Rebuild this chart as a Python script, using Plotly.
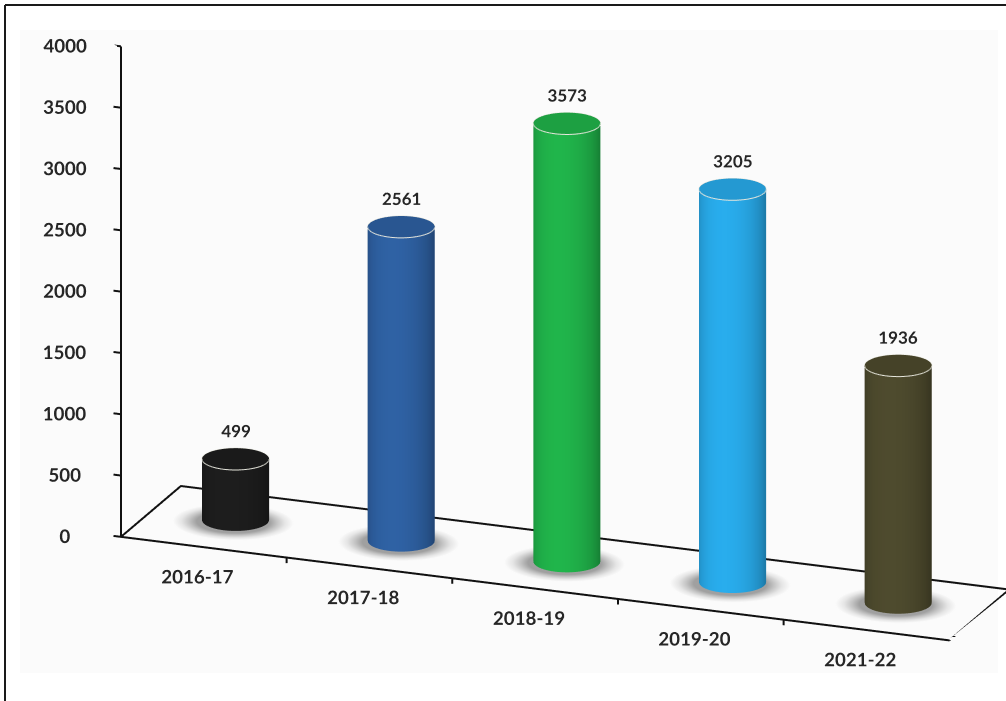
import math
import numpy as np
import plotly.graph_objects as go

# ---- data -------------------------------------------------------------
categories = ["2016-17", "2017-18", "2018-19", "2019-20", "2021-22"]
values = [499, 2561, 3573, 3205, 1936]
bar_colors = ["#1c1c1c", "#2d5e9e", "#1fae48", "#27a6e4", "#4b482c"]
z_ticks = [0, 500, 1000, 1500, 2000, 2500, 3000, 3500, 4000]

# ---- scene geometry ---------------------------------------------------
K_PX = 350.0                  # pixels per scene unit (orthographic view)
PX_X = 886 / 5                # pixels per category step
PX_Y = 167                    # pixels for the full floor depth
PX_Z = 518 / 4000             # pixels per value unit
FLOOR_X = [-0.5, len(categories) - 0.5]
X_RANGE = [-0.8, FLOOR_X[1]]          # room on the left for the value ticks
Y_RANGE = [0.0, 1.0]
Z_RANGE = [-195, 4000]                # room below the floor for category labels
AX = (X_RANGE[1] - X_RANGE[0]) * PX_X / K_PX
AY = (Y_RANGE[1] - Y_RANGE[0]) * PX_Y / K_PX
AZ = (Z_RANGE[1] - Z_RANGE[0]) * PX_Z / K_PX
R_PX = 33.5                           # cylinder radius in pixels
RX = R_PX / PX_X
RY = R_PX / PX_Y
Y_MID = 0.53
N_SEG = 72

FONT = "Lato, 'Open Sans', Arial, sans-serif"
TXT = "#262626"
LINE = "#111111"

# ---- camera angles --------------------------------------------------------
phi, theta = math.radians(21), math.radians(19)
eye_dir = np.array([math.sin(phi) * math.cos(theta),
                    -math.cos(phi) * math.cos(theta), math.sin(theta)])
right = np.array([math.cos(phi), math.sin(phi), 0.0])
up = np.cross(right, -eye_dir)
t_light = (phi - math.pi / 2) - math.radians(15)


def rgb(hexcol):
    h = hexcol.lstrip("#")
    return np.array([int(h[i:i + 2], 16) for i in (0, 2, 4)], dtype=float)


def css(c):
    c = np.clip(c, 0, 255).round().astype(int)
    return f"rgb({c[0]},{c[1]},{c[2]})"


def cylinder(xc, height, color):
    base = rgb(color)
    t = np.linspace(0, 2 * np.pi, N_SEG, endpoint=False)
    cx = xc + RX * np.cos(t)
    cy = Y_MID + RY * np.sin(t)
    shade = 0.74 + 0.30 * np.clip(np.cos(t - t_light), 0, None)
    side_cols = [css(base * s) for s in shade]
    cap_col = css(base * 0.92)
    # side ring bottom, side ring top, cap ring, cap centre
    xs = np.concatenate([cx, cx, cx, [xc]])
    ys = np.concatenate([cy, cy, cy, [Y_MID]])
    zs = np.concatenate([np.zeros(N_SEG), np.full(N_SEG, height),
                         np.full(N_SEG, height), [height]])
    vc = side_cols + side_cols + [cap_col] * (N_SEG + 1)
    I, J, K = [], [], []
    for s in range(N_SEG):
        n = (s + 1) % N_SEG
        I += [s, n]
        J += [n, N_SEG + n]
        K += [N_SEG + s, N_SEG + s]
    c = 3 * N_SEG
    for s in range(N_SEG):
        n = (s + 1) % N_SEG
        I.append(2 * N_SEG + s)
        J.append(2 * N_SEG + n)
        K.append(c)
    return go.Mesh3d(
        x=xs, y=ys, z=zs, i=I, j=J, k=K, vertexcolor=vc,
        lighting=dict(ambient=1, diffuse=0, specular=0, fresnel=0),
        hoverinfo="skip", showscale=False)


def base_shadow(xc):
    t = np.linspace(0, 2 * np.pi, N_SEG, endpoint=False)
    rings = [(0.0, "#a0a0a0"), (1.0, "#a0a0a0"), (1.2, "#c4c4c4"),
             (1.42, "#e6e6e6"), (1.65, "#fbfbfb")]
    xs, ys, vc = [], [], []
    for f, col in rings:
        xs += list(xc + 1.1 * f * RX * np.cos(t))
        ys += list(Y_MID + f * RY * np.sin(t) - 0.04)
        vc += [col] * N_SEG
    I, J, K = [], [], []
    for r in range(len(rings) - 1):
        for s in range(N_SEG):
            n = (s + 1) % N_SEG
            a, b = r * N_SEG + s, r * N_SEG + n
            c, d = (r + 1) * N_SEG + s, (r + 1) * N_SEG + n
            I += [a, b]
            J += [b, d]
            K += [c, c]
    return go.Mesh3d(
        x=xs, y=ys, z=[2] * len(xs), i=I, j=J, k=K, vertexcolor=vc,
        lighting=dict(ambient=1, diffuse=0, specular=0, fresnel=0),
        hoverinfo="skip", showscale=False)


def segments(xs, ys, zs, width):
    return go.Scatter3d(x=xs, y=ys, z=zs, mode="lines",
                        line=dict(color=LINE, width=width),
                        hoverinfo="skip", showlegend=False)


fig = go.Figure()

# floor outline
fx = [FLOOR_X[0], FLOOR_X[1], FLOOR_X[1], FLOOR_X[0], FLOOR_X[0]]
fy = [Y_RANGE[0], Y_RANGE[0], Y_RANGE[1], Y_RANGE[1], Y_RANGE[0]]
fig.add_trace(segments(fx, fy, [0] * 5, 4))

# category separators on the front edge
sx, sy, sz = [], [], []
for b in range(len(categories) - 1):
    sx += [b + 0.5, b + 0.5, None]
    sy += [0, 0, None]
    sz += [0, -45, None]
fig.add_trace(segments(sx, sy, sz, 4))

# value axis with its tick marks
ax_x, ax_y, ax_z = [FLOOR_X[0], FLOOR_X[0]], [0, 0], [0, z_ticks[-1]]
for zt in z_ticks:
    ax_x += [None, FLOOR_X[0], FLOOR_X[0] - 0.045]
    ax_y += [None, 0, 0]
    ax_z += [None, zt, zt]
fig.add_trace(segments(ax_x, ax_y, ax_z, 4))

for i, (v, col) in enumerate(zip(values, bar_colors)):
    fig.add_trace(base_shadow(i))
    fig.add_trace(cylinder(i, v, col))
    # light rim around the top face
    t = np.linspace(0, 2 * np.pi, N_SEG + 1)
    fig.add_trace(go.Scatter3d(
        x=i + RX * np.cos(t), y=Y_MID + RY * np.sin(t), z=[v] * (N_SEG + 1),
        mode="lines", line=dict(color="#e6e6dc", width=2),
        hoverinfo="skip", showlegend=False))

# value labels above each cylinder
fig.add_trace(go.Scatter3d(
    x=list(range(len(values))), y=[Y_MID] * len(values),
    z=[v + 230 for v in values], mode="text", textposition="middle center",
    text=[str(v) for v in values],
    textfont=dict(family=FONT, size=17, color=TXT, weight="bold"),
    hoverinfo="skip", showlegend=False))

# ---- camera placement -------------------------------------------------------
box_mid = np.array([(X_RANGE[0] + X_RANGE[1]) / 2, 0.5,
                    (Z_RANGE[0] + Z_RANGE[1]) / 2])
target = np.array([(2.0 - box_mid[0]) * PX_X / K_PX,
                   0.0,
                   (2000 - box_mid[2]) * PX_Z / K_PX])
shift = target - (62 / K_PX) * right - (32.5 / K_PX) * up
eye = shift + 2.5 * eye_dir

axis_common = dict(showgrid=False, zeroline=False, showbackground=False,
                   showspikes=False, showline=False, ticks="",
                   title=dict(text=""))

fig.update_layout(
    width=1006, height=701,
    margin=dict(l=0, r=0, t=0, b=0),
    paper_bgcolor="white",
    showlegend=False,
    shapes=[
        dict(type="rect", xref="paper", yref="paper", layer="below",
             x0=20 / 1006, x1=998 / 1006, y0=1 - 673 / 701, y1=1 - 30 / 701,
             line=dict(width=0), fillcolor="#fbfbfb"),
        dict(type="line", xref="paper", yref="paper",
             x0=5 / 1006, x1=5 / 1006, y0=0, y1=1 - 5 / 701,
             line=dict(color="#1a1a1a", width=2)),
        dict(type="line", xref="paper", yref="paper",
             x0=5 / 1006, x1=1, y0=1 - 5 / 701, y1=1 - 5 / 701,
             line=dict(color="#1a1a1a", width=2)),
    ],
    scene=dict(
        domain=dict(x=[0, 1], y=[0, 1]),
        bgcolor="rgba(0,0,0,0)",
        aspectmode="manual",
        aspectratio=dict(x=AX, y=AY, z=AZ),
        xaxis=dict(range=X_RANGE, tickvals=list(range(len(categories))),
                   ticktext=categories, tickangle=0,
                   tickfont=dict(family=FONT, size=15, color=TXT, weight="bold"),
                   **axis_common),
        yaxis=dict(range=Y_RANGE, visible=False, **axis_common),
        zaxis=dict(range=Z_RANGE, tickvals=z_ticks, tickangle=0,
                   tickfont=dict(family=FONT, size=15, color=TXT, weight="bold"),
                   **axis_common),
        camera=dict(
            projection=dict(type="orthographic"),
            up=dict(x=0, y=0, z=1),
            center=dict(x=shift[0], y=shift[1], z=shift[2]),
            eye=dict(x=eye[0], y=eye[1], z=eye[2]),
        ),
    ),
)

fig.write_html("out.html")
